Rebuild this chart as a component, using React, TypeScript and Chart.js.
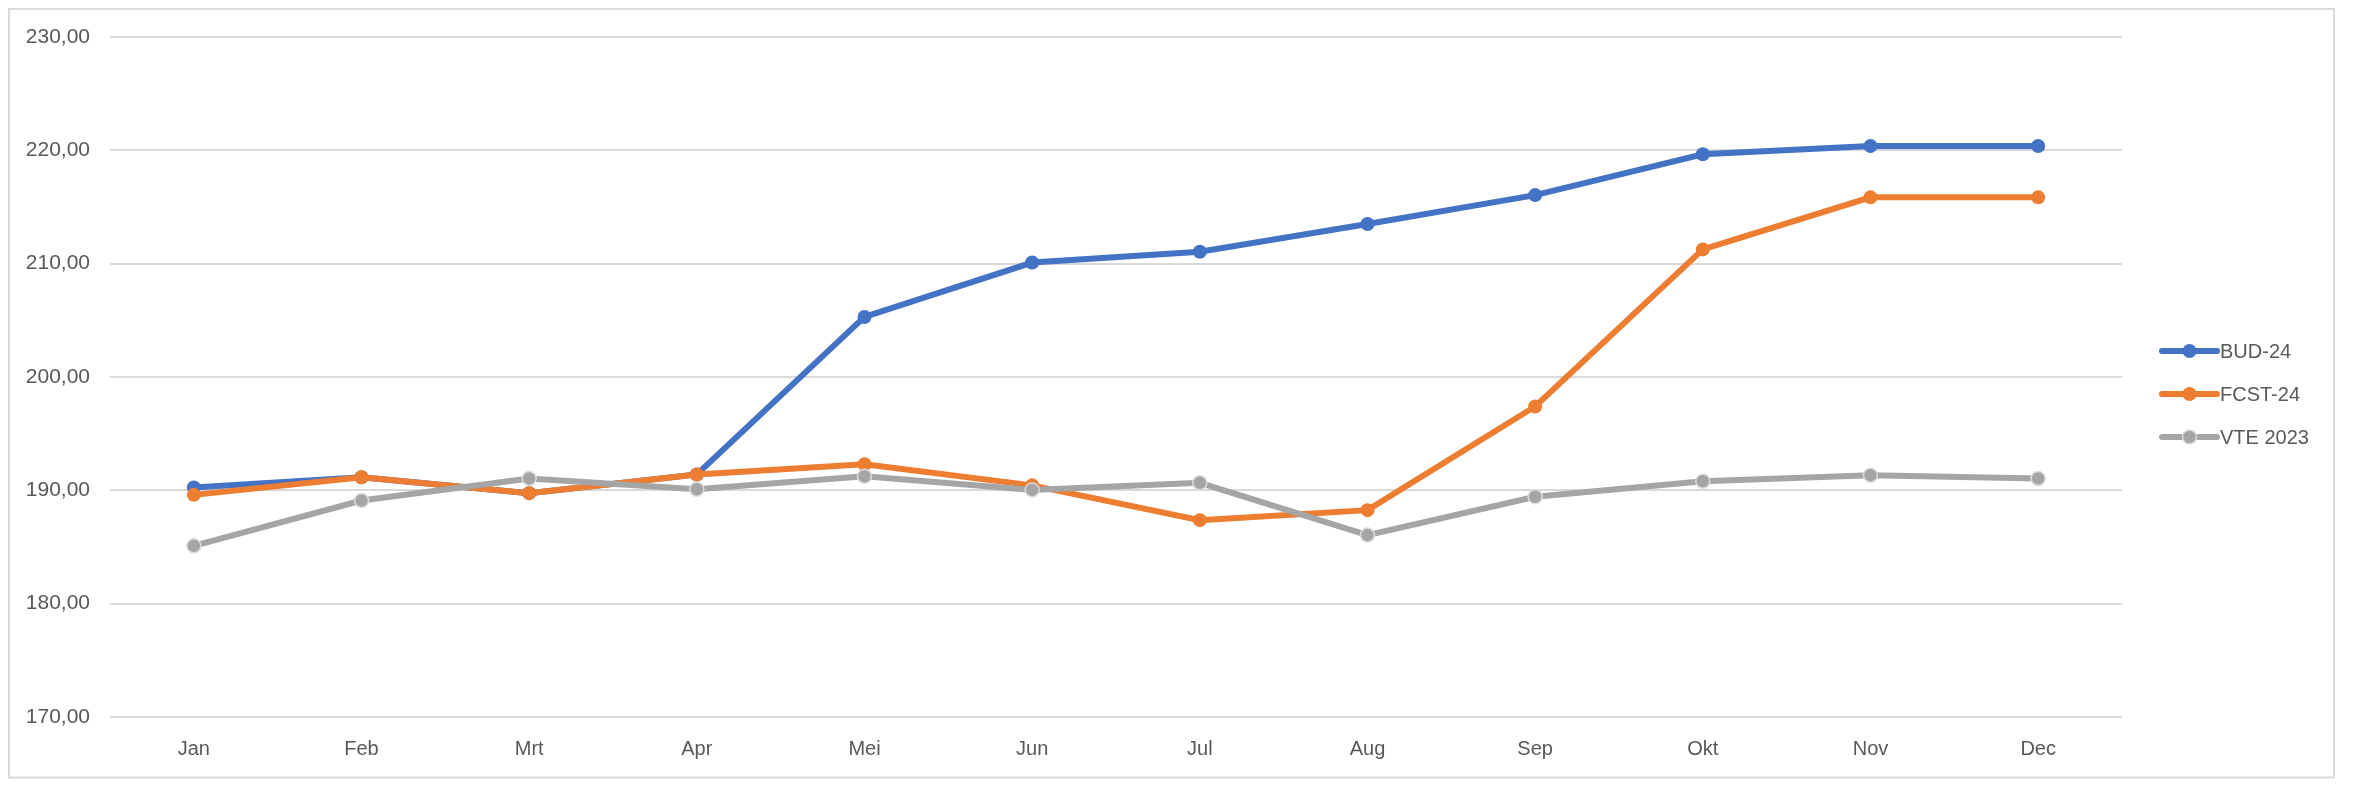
import React, { useEffect, useRef } from "react";
import { Chart, registerables } from "chart.js";

Chart.register(...registerables);

const months = ["Jan", "Feb", "Mrt", "Apr", "Mei", "Jun", "Jul", "Aug", "Sep", "Okt", "Nov", "Dec"];
const bud24 = [190.26, 191.15, 189.75, 191.4, 205.3, 210.1, 211.05, 213.5, 216.05, 219.65, 220.38, 220.38];
const fcst24 = [189.6, 191.15, 189.75, 191.4, 192.3, 190.44, 187.37, 188.25, 197.4, 211.26, 215.85, 215.85];
const vte2023 = [185.1, 189.1, 191.05, 190.1, 191.24, 190.04, 190.66, 186.05, 189.43, 190.81, 191.34, 191.05];
const yMin = 170;
const yMax = 230;
const yStep = 10;

const W = 2357;
const H = 785;
const FONT = "'Liberation Sans', Arial, sans-serif";
const TEXT = "#595959";
const GRID = "#d9d9d9";

const frame = {
  id: "frame",
  beforeDraw(chart: any) {
    const c = chart.ctx;
    c.save();
    c.fillStyle = "#ffffff";
    c.fillRect(0, 0, chart.width, chart.height);
    c.strokeStyle = GRID;
    c.lineWidth = 2;
    c.strokeRect(9, 9, 2325, 768.5);
    c.restore();
  },
};

const sideLegend = {
  id: "sideLegend",
  afterDraw(chart: any) {
    const c = chart.ctx;
    const x0 = 2162;
    const x1 = 2217;
    const yStart = 351;
    const gap = 43;
    c.save();
    chart.data.datasets.forEach((ds: any, i: number) => {
      const y = yStart + i * gap;
      c.strokeStyle = ds.borderColor;
      c.lineWidth = 6;
      c.lineCap = "round";
      c.beginPath();
      c.moveTo(x0, y);
      c.lineTo(x1, y);
      c.stroke();
      c.beginPath();
      c.arc((x0 + x1) / 2, y, 7, 0, Math.PI * 2);
      c.fillStyle = ds.pointBackgroundColor;
      c.fill();
      if (ds.pointBorderColor !== ds.pointBackgroundColor) {
        c.lineWidth = 1.5;
        c.strokeStyle = ds.pointBorderColor;
        c.stroke();
      }
      c.fillStyle = TEXT;
      c.font = `20px ${FONT}`;
      c.textAlign = "left";
      c.textBaseline = "middle";
      c.fillText(ds.label, x1 + 3, y + 1);
    });
    c.restore();
  },
};

export default function App() {
  const ref = useRef<HTMLCanvasElement | null>(null);

  useEffect(() => {
    document.body.style.margin = "0";
    document.body.style.overflow = "hidden";
    const canvas = ref.current!;
    const mk = (label: string, data: number[], color: string, pBorder: string, order: number) => ({
      label,
      data,
      borderColor: color,
      backgroundColor: color,
      pointBackgroundColor: color,
      pointBorderColor: pBorder,
      pointBorderWidth: color === pBorder ? 0 : 1.5,
      pointRadius: 7,
      pointHoverRadius: 7,
      borderWidth: 6,
      tension: 0,
      order,
    });
    const chart = new Chart(canvas, {
      type: "line",
      data: {
        labels: months,
        datasets: [
          mk("BUD-24", bud24, "#4472c4", "#4472c4", 3),
          mk("FCST-24", fcst24, "#ed7d31", "#ed7d31", 2),
          mk("VTE 2023", vte2023, "#a5a5a5", "#dcdcdc", 1),
        ],
      },
      options: {
        animation: false,
        responsive: false,
        devicePixelRatio: 1,
        layout: { padding: { left: 0, right: W - 2122, top: 37, bottom: 0 } },
        plugins: { legend: { display: false }, tooltip: { enabled: false } },
        scales: {
          x: {
            offset: true,
            grid: { display: false, drawTicks: false, offset: true },
            border: { display: false },
            ticks: { color: TEXT, font: { family: FONT, size: 20 }, padding: 20 },
            afterFit: (s: any) => {
              s.height = H - 717;
            },
          },
          y: {
            min: yMin,
            max: yMax,
            grid: { color: GRID, lineWidth: 2, drawTicks: false },
            border: { display: false },
            ticks: {
              stepSize: yStep,
              color: TEXT,
              font: { family: FONT, size: 21 },
              padding: 20,
              callback: (v: any) => Number(v).toFixed(2).replace(".", ","),
            },
            afterFit: (s: any) => {
              s.width = 110;
            },
          },
        },
      },
      plugins: [frame, sideLegend],
    });
    return () => chart.destroy();
  }, []);

  return (
    <div style={{ position: "fixed", left: 0, top: 0, width: W, height: H, overflow: "hidden", background: "#fff" }}>
      <canvas ref={ref} width={W} height={H} style={{ width: W, height: H, display: "block" }} />
    </div>
  );
}
